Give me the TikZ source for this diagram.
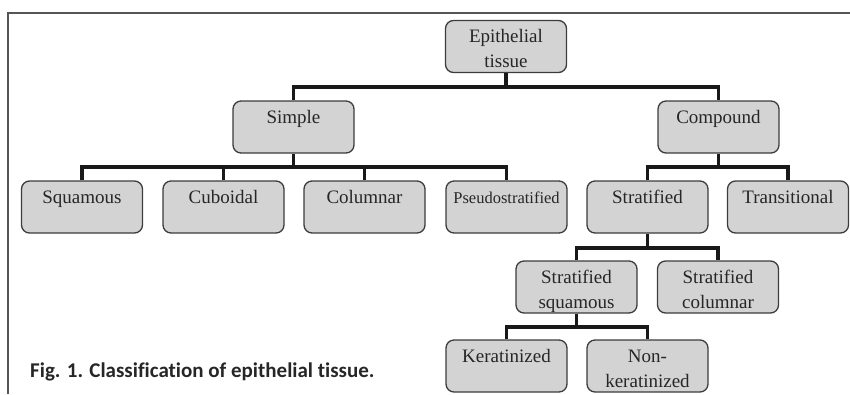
\documentclass[tikz,border=0pt]{standalone}
\usepackage{fontspec}
\setmainfont{Liberation Serif}
\newfontfamily\capfont[Ligatures=NoCommon]{Carlito}
\definecolor{boxfill}{RGB}{211,211,211}
\definecolor{boxline}{RGB}{60,60,60}
\definecolor{framecol}{RGB}{85,85,85}
\tikzset{
  tbox/.style={draw=boxline, line width=1.3pt, fill=boxfill, rounded corners=8pt,
    minimum width=121pt, minimum height=52pt, inner sep=0pt, align=center,
    text height=47pt, text depth=5pt, text=black!85,
    font=\fontsize{19}{25}\selectfont},
  smallbox/.style={tbox, font=\fontsize{16.5}{25}\selectfont},
  conn/.style={line width=3.6pt, black!90},
}
\begin{document}
\begin{tikzpicture}[x=1pt,y=-1pt]
\useasboundingbox (0,0) rectangle (850,394);
% frame
\draw[framecol, line width=1.3pt] (850,13) -- (8,13) -- (8,394);
% nodes
\node[tbox] (epi) at (506,46.5) {Epithelial\\tissue};
\node[tbox] (simple) at (293.5,127) {Simple\\\mbox{}};
\node[tbox] (compound) at (718.5,127) {Compound\\\mbox{}};
\node[tbox] (squamous) at (82,207) {Squamous\\\mbox{}};
\node[tbox] (cuboidal) at (223.5,207) {Cuboidal\\\mbox{}};
\node[tbox] (columnar) at (364.5,207) {Columnar\\\mbox{}};
\node[smallbox] (pseudo) at (506.5,207) {Pseudostratified\\\mbox{}};
\node[tbox] (stratified) at (647.5,207) {Stratified\\\mbox{}};
\node[tbox] (transitional) at (788,207) {Transitional\\\mbox{}};
\node[tbox] (stratsq) at (576.5,287) {Stratified\\squamous};
\node[tbox] (stratcol) at (718,287) {Stratified\\columnar};
\node[tbox] (kerat) at (506.5,366) {Keratinized\\\mbox{}};
\node[tbox] (nonkerat) at (647.5,366) {Non-\\keratinized};
% bar junctions
\coordinate (b1) at (506,87);
\coordinate (b2) at (293.5,167);
\coordinate (b3) at (718.5,167);
\coordinate (b4) at (647.5,248);
\coordinate (b5) at (576.5,327);
% connectors
\draw[conn] (epi.south) -- (b1);
\draw[conn] (simple.north) |- (b1) -| (compound.north);
\draw[conn] (simple.south) -- (b2);
\draw[conn] (squamous.north) |- (b2) -| (pseudo.north);
\draw[conn] (cuboidal.north) -- (cuboidal.north |- b2);
\draw[conn] (columnar.north) -- (columnar.north |- b2);
\draw[conn] (compound.south) -- (b3);
\draw[conn] (stratified.north) |- (b3) -| (transitional.north);
\draw[conn] (stratified.south) -- (b4);
\draw[conn] (stratsq.north) |- (b4) -| (stratcol.north);
\draw[conn] (stratsq.south) -- (b5);
\draw[conn] (kerat.north) |- (b5) -| (nonkerat.north);
% caption
\node[anchor=base west, inner sep=0pt, font=\capfont\bfseries\fontsize{21}{24}\selectfont, text=black!85] (caption) at (30,377) {Fig. 1. Classification of epithelial tissue.};
\end{tikzpicture}
\end{document}
